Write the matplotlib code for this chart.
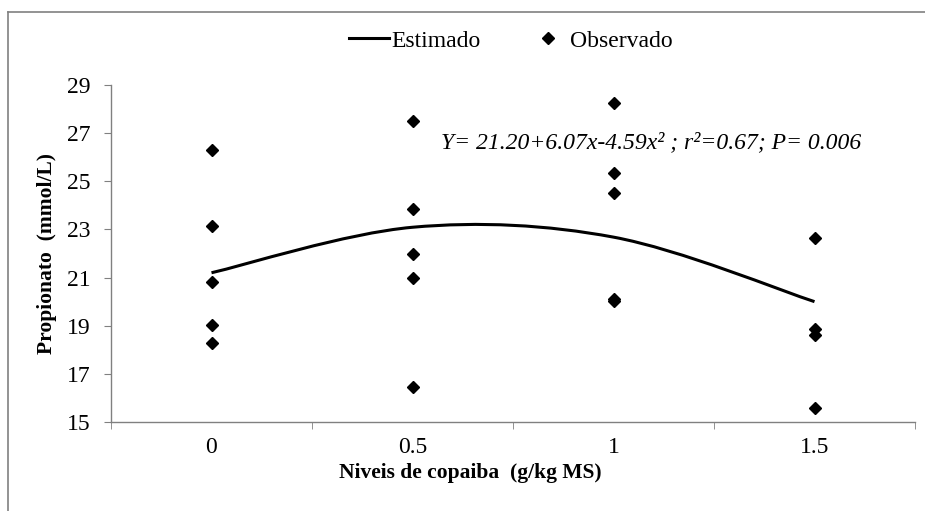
import matplotlib
matplotlib.use("Agg")
import matplotlib.pyplot as plt
from matplotlib.path import Path
from matplotlib.patches import PathPatch
from matplotlib.lines import Line2D
import numpy as np

plt.rcParams['font.family'] = ['Liberation Serif', 'DejaVu Serif']

categories = ["0", "0.5", "1", "1.5"]
estimated = [21.20, 23.09, 22.68, 20.00]
obs_0 = [26.30, 23.15, 20.82, 19.05, 18.30]
obs_05 = [27.52, 23.85, 22.00, 20.97, 16.44]
obs_1 = [28.24, 25.36, 24.53, 20.10, 20.02]
obs_15 = [22.66, 18.85, 18.61, 15.57]
observed = [obs_0, obs_05, obs_1, obs_15]
yticks = [15, 17, 19, 21, 23, 25, 27, 29]

fig = plt.figure(figsize=(9.25, 5.11), dpi=100)
ax = fig.add_axes([111/925, 1-422/511, (915-111)/925, (422-85)/511])

# smoothed estimated line (Excel-style Bezier through the points)
xs = np.arange(len(categories), dtype=float)
pts = np.column_stack([xs, estimated])
n = len(pts)
verts = [tuple(pts[0])]
codes = [Path.MOVETO]
for i in range(n - 1):
    p_prev = pts[i - 1] if i > 0 else pts[i]
    p0 = pts[i]
    p1 = pts[i + 1]
    p_next = pts[i + 2] if i + 2 < n else pts[i + 1]
    c1 = p0 + (p1 - p_prev) / 6.0
    c2 = p1 - (p_next - p0) / 6.0
    verts += [tuple(c1), tuple(c2), tuple(p1)]
    codes += [Path.CURVE4] * 3
patch = PathPatch(Path(verts, codes), facecolor='none', edgecolor='black', lw=2.2, zorder=3)
ax.add_patch(patch)

for i, vals in enumerate(observed):
    ax.plot([i] * len(vals), vals, linestyle='none', marker='D', markersize=6,
            color='black', zorder=4)

ax.set_xlim(-0.5, 3.5)
ax.set_ylim(15, 29)
ax.set_yticks(yticks)
ax.set_yticklabels([str(t) for t in yticks], fontsize=17)
ax.set_xticks(xs)
ax.set_xticklabels(categories, fontsize=17)
ax.set_xticks(np.arange(-0.5, 4.0, 1.0), minor=True)
ax.tick_params(axis='x', which='major', length=0, pad=11)
ax.tick_params(axis='x', which='minor', length=5, direction='out', color='#808080')
ax.tick_params(axis='y', length=5, direction='out', color='#808080', pad=10)
for s in ['top', 'right']:
    ax.spines[s].set_visible(False)
for s in ['left', 'bottom']:
    ax.spines[s].set_color('#808080')
    ax.spines[s].set_linewidth(1.0)

ax.text(1.14, 26.6, "Y= 21.20+6.07x-4.59x² ; r²=0.67; P= 0.006",
        fontsize=17, style='italic', ha='left', va='center')

fig.text(47/925, 1-253/511, "Propionato  (mmol/L)", rotation=90, fontsize=15.5,
         fontweight='bold', ha='center', va='center')
fig.text(470/925, 1-473/511, "Niveis de copaiba  (g/kg MS)", fontsize=15.5,
         fontweight='bold', ha='center', va='center')

handles = [Line2D([], [], color='black', lw=2.2),
           Line2D([], [], color='black', marker='D', markersize=6, linestyle='none')]
fig.legend(handles, ["Estimado", "Observado"], loc='center', bbox_to_anchor=(511/925, 1-41/511),
           ncol=2, frameon=False, fontsize=17, handlelength=1.7, handletextpad=0.1,
           columnspacing=2.0)

# chart-area border (left and top visible)
fig.add_artist(Line2D([8/925, 8/925], [0, 1-12/511], transform=fig.transFigure, color='#808080', lw=1.2))
fig.add_artist(Line2D([8/925, 1], [1-12/511, 1-12/511], transform=fig.transFigure, color='#808080', lw=1.2))

fig.savefig("out.png", dpi=100)
